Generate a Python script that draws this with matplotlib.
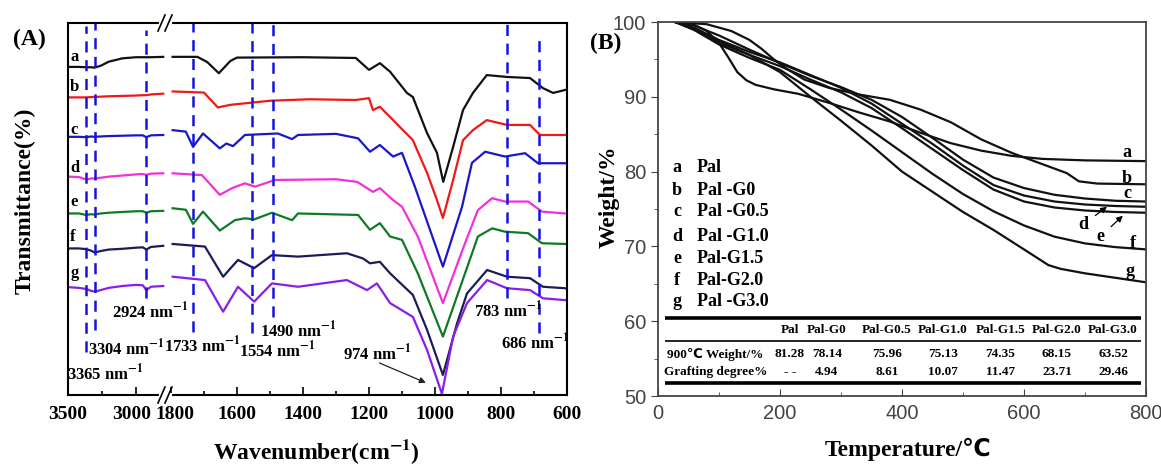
import matplotlib.pyplot as plt
from matplotlib.lines import Line2D
from matplotlib.ticker import MultipleLocator
from matplotlib.transforms import offset_copy

plt.rcParams['font.family'] = ['Liberation Serif', 'DejaVu Sans']
plt.rcParams['font.weight'] = 'bold'
plt.rcParams['mathtext.fontset'] = 'stix'
plt.rcParams['mathtext.default'] = 'bf'
plt.rcParams['lines.scale_dashes'] = False

# ---------------- (A) FTIR data (transmittance offset, a.u.) ----------------
left_wn = [3500, 3420, 3365, 3330, 3304, 3260, 3200, 3100, 3000, 2950, 2924, 2890, 2800]
a_left = [88.2, 88.2, 88.1, 88.1, 88.0, 88.5, 89.6, 90.5, 90.8, 90.8, 90.8, 90.8, 90.9]
b_left = [80.0, 80.0, 80.0, 80.1, 80.1, 80.2, 80.3, 80.4, 80.5, 80.6, 80.6, 80.8, 81.0]
c_left = [69.4, 69.4, 69.3, 69.5, 69.4, 69.5, 69.6, 69.7, 69.8, 69.8, 69.3, 69.8, 69.9]
d_left = [58.7, 58.6, 57.9, 58.2, 58.2, 58.4, 58.7, 59.0, 59.3, 59.4, 59.2, 59.5, 59.6]
e_left = [48.8, 48.8, 48.4, 48.6, 48.5, 48.8, 49.0, 49.2, 49.4, 49.4, 49.0, 49.4, 49.5]
f_left = [39.4, 39.4, 39.2, 38.8, 38.3, 38.7, 39.1, 39.3, 39.6, 39.7, 39.1, 39.8, 40.1]
g_left = [29.0, 28.8, 28.5, 28.0, 27.8, 28.2, 28.8, 29.3, 29.6, 29.5, 28.2, 29.1, 29.3]

a_wn = [1795, 1720, 1690, 1655, 1620, 1600, 1400, 1240, 1200, 1167, 1136, 1085, 1067, 1024, 994, 975,
        945, 915, 885, 843, 782, 712, 673, 642, 606]
a_t = [90.9, 90.9, 89.5, 86.5, 89.8, 90.7, 90.8, 90.6, 87.4, 89.2, 86.9, 81.2, 80.1, 70.4, 65.1, 57.3,
       66.7, 76.6, 81.2, 86.0, 85.5, 85.2, 82.5, 81.2, 82.0]
b_wn = [1795, 1700, 1658, 1620, 1500, 1380, 1240, 1200, 1188, 1167, 1136, 1067, 1024, 994, 976, 945,
        915, 885, 843, 782, 712, 682, 606]
b_t = [81.6, 81.3, 77.3, 78.0, 79.1, 79.5, 79.3, 79.8, 76.6, 77.5, 74.7, 68.5, 59.7, 52.4, 47.6, 57.8,
       68.5, 71.2, 73.9, 72.6, 72.6, 69.9, 69.9]
c_wn = [1795, 1755, 1733, 1703, 1652, 1632, 1612, 1576, 1476, 1433, 1415, 1300, 1233, 1197, 1167, 1127,
        1100, 1061, 976, 918, 888, 848, 788, 727, 688, 606]
c_t = [71.2, 70.8, 66.7, 70.3, 66.3, 67.6, 66.9, 69.9, 70.3, 68.8, 69.9, 70.2, 69.0, 65.4, 67.2, 64.1,
       65.1, 56.0, 34.5, 50.6, 62.4, 65.4, 64.1, 65.0, 62.3, 62.3]
d_wn = [1795, 1706, 1652, 1615, 1576, 1545, 1485, 1300, 1236, 1188, 1167, 1127, 1100, 1052, 976, 909,
        870, 827, 788, 718, 676, 606]
d_t = [59.6, 59.1, 53.8, 55.6, 56.9, 56.0, 57.8, 58.0, 57.3, 54.6, 55.6, 52.4, 50.6, 42.6, 24.7, 40.8,
       49.7, 52.9, 52.0, 52.0, 49.3, 48.8]
e_wn = [1795, 1755, 1733, 1703, 1652, 1606, 1576, 1548, 1494, 1433, 1415, 1233, 1197, 1167, 1136, 1100,
        1052, 976, 909, 870, 827, 788, 718, 676, 606]
e_t = [50.2, 49.8, 46.0, 49.3, 44.2, 47.0, 47.5, 47.2, 49.0, 47.0, 48.8, 48.4, 44.4, 46.2, 42.6, 41.7,
       32.7, 15.7, 32.7, 42.6, 44.8, 43.9, 43.5, 40.8, 40.6]
f_wn = [1795, 1697, 1642, 1597, 1548, 1494, 1415, 1267, 1218, 1197, 1167, 1136, 1067, 1024, 976, 933,
        903, 842, 782, 712, 673, 606]
f_t = [40.6, 39.9, 31.8, 36.3, 34.1, 37.6, 37.2, 38.1, 36.7, 35.4, 35.8, 32.7, 26.9, 17.5, 5.4, 19.3,
       27.3, 33.6, 31.8, 31.4, 29.1, 28.7]
g_wn = [1795, 1697, 1642, 1597, 1548, 1494, 1415, 1267, 1206, 1176, 1136, 1067, 1024, 979, 945, 903,
        842, 782, 712, 673, 606]
g_t = [31.8, 30.9, 22.4, 29.1, 25.1, 30.0, 29.1, 30.9, 28.2, 30.0, 24.7, 21.0, 12.1, 0.3, 15.7, 24.7,
       30.9, 28.7, 28.2, 26.0, 25.5]

ir_names = ['a', 'b', 'c', 'd', 'e', 'f', 'g']
ir_colors = ['#111111', '#f01818', '#1818c8', '#f030d8', '#0f7a25', '#1c1c58', '#8a1ee8']
ir_label_t = [90.9, 82.8, 71.2, 61.0, 51.9, 42.5, 32.7]

# marked bands
band_wn = [3365, 3304, 2924, 1733, 1554, 1490, 783, 686]
band_top = [99.2, 100, 98.1, 100, 100, 100, 100, 96.8]
band_bottom = [11.6, 17.5, 26.1, 16.9, 16.7, 21.0, 26.1, 16.7]
band_lab_x = [3228, 3073, 2897, 1706, 1479, 1415, 779, 697]
band_lab_y = [5.9, 12.6, 22.6, 13.4, 12.1, 17.5, 22.8, 14.2]

# ---------------- (B) TGA data ----------------
tga_a_x = [28, 60, 80, 100, 115, 130, 145, 160, 190, 230, 280, 330, 380, 430, 480, 530, 580, 630, 700, 800]
tga_a_y = [100, 99.6, 98.8, 97.2, 95.3, 93.3, 92.2, 91.6, 91.0, 90.4, 89.2, 87.9, 86.7, 85.2, 83.8,
           82.8, 82.1, 81.7, 81.5, 81.4]
tga_b_x = [28, 80, 120, 150, 170, 190, 210, 240, 280, 330, 380, 430, 480, 530, 580, 630, 670, 690, 720, 800]
tga_b_y = [100, 99.7, 98.8, 97.6, 96.4, 95.0, 93.8, 92.3, 91.2, 90.3, 89.6, 88.3, 86.6, 84.3, 82.5,
           81.0, 79.8, 78.7, 78.4, 78.3]
tga_x = [28, 60, 100, 150, 200, 250, 300, 350, 400, 450, 500, 550, 600, 650, 700, 750, 800]
tga_c_y = [100, 99.5, 98.2, 96.3, 94.5, 92.8, 91.3, 89.6, 87.3, 84.5, 81.6, 79.2, 77.8, 76.9, 76.4, 76.1, 76.0]
tga_d_y = [100, 99.2, 97.6, 96.0, 94.6, 92.9, 91.2, 89.1, 86.4, 83.7, 80.8, 78.2, 76.8, 76.0, 75.6, 75.4, 75.3]
tga_e_y = [100, 99.0, 97.2, 95.6, 94.1, 92.3, 90.6, 88.5, 85.8, 83.0, 80.2, 77.6, 76.0, 75.2, 74.8, 74.6, 74.5]
tga_f_y = [100, 98.9, 97.0, 95.2, 93.6, 91.0, 88.3, 85.5, 82.6, 79.7, 77.0, 74.7, 72.8, 71.3, 70.4, 69.9, 69.6]
tga_g_x = [28, 60, 100, 150, 200, 250, 300, 350, 400, 450, 500, 550, 600, 640, 660, 700, 750, 800]
tga_g_y = [100, 99.1, 97.5, 95.6, 93.3, 90.0, 86.8, 83.5, 80.0, 77.3, 74.6, 72.2, 69.6, 67.5, 67.0,
           66.4, 65.8, 65.2]

samples = ['Pal', 'Pal -G0', 'Pal -G0.5', 'Pal -G1.0', 'Pal-G1.5', 'Pal-G2.0', 'Pal -G3.0']
table_cols = ['Pal', 'Pal-G0', 'Pal-G0.5', 'Pal-G1.0', 'Pal-G1.5', 'Pal-G2.0', 'Pal-G3.0']
weight_900 = ['81.28', '78.14', '75.96', '75.13', '74.35', '68.15', '63.52']
grafting = ['- -', '4.94', '8.61', '10.07', '11.47', '23.71', '29.46']

W, H = 1161, 469
fig = plt.figure(figsize=(W / 100, H / 100), dpi=100)


def box(l, t, r, b):
    return [l / W, 1 - b / H, (r - l) / W, (b - t) / H]


# ---------------- panel A ----------------
ax1 = fig.add_axes(box(68, 23, 167, 395))
ax2 = fig.add_axes(box(167, 23, 567, 395))
ax1.set_xlim(3500, 2772)
ax2.set_xlim(1812, 600)
for ax in (ax1, ax2):
    ax.set_ylim(0, 100)
    ax.set_yticks([])
    ax.patch.set_visible(False)
    for s in ax.spines.values():
        s.set_linewidth(1.5)
    ax.tick_params(axis='x', which='both', direction='in', labelsize=14, width=1.2, pad=8)
    ax.tick_params(axis='x', which='major', length=6)
    ax.tick_params(axis='x', which='minor', length=3)
ax1.spines['right'].set_visible(False)
ax2.spines['left'].set_visible(False)
ax1.set_xticks([3500, 3000], ['3500', ''])
ax1.xaxis.set_minor_locator(MultipleLocator(250))
ax2.set_xticks([1800, 1600, 1400, 1200, 1000, 800, 600],
               ['', '1600', '1400', '1200', '1000', '800', '600'])
ax2.xaxis.set_minor_locator(MultipleLocator(100))
# the two labels either side of the break, nudged apart
ax1.text(3000, 0, '3000', fontsize=14, ha='center', va='top',
         transform=offset_copy(ax1.get_xaxis_transform(), fig, x=-4, y=-11, units='dots'))
ax2.text(1800, 0, '1800', fontsize=14, ha='center', va='top',
         transform=offset_copy(ax2.get_xaxis_transform(), fig, x=4, y=-11, units='dots'))

lefts = [a_left, b_left, c_left, d_left, e_left, f_left, g_left]
rights = [(a_wn, a_t), (b_wn, b_t), (c_wn, c_t), (d_wn, d_t), (e_wn, e_t), (f_wn, f_t), (g_wn, g_t)]
for i in range(7):
    ax1.plot(left_wn, lefts[i], color=ir_colors[i], lw=1.6)
    ax2.plot(rights[i][0], rights[i][1], color=ir_colors[i], lw=1.6)
    ax1.text(3484, ir_label_t[i], ir_names[i], fontsize=12, ha='left', va='center')

for i, wn in enumerate(band_wn):
    ax = ax1 if wn > 2000 else ax2
    ax.plot([wn, wn], [band_bottom[i], band_top[i]], color='#1414e0', lw=1.8,
            ls='--', dashes=(8, 5.5), clip_on=False)
    ax.text(band_lab_x[i], band_lab_y[i], f'{wn} nm$^{{-1}}$', fontsize=12,
            ha='center', va='center')

ax2.text(1176, 11.3, '974 nm$^{-1}$', fontsize=12, ha='center', va='center')
ax2.annotate('', xy=(1020, 3.0), xytext=(1176, 8.9),
             arrowprops=dict(arrowstyle='-|>', color='#222222', lw=0.9, mutation_scale=9))

# axis break marks
for yb in (23, 395):
    fig.add_artist(Line2D([161 / W, 170 / W], [1 - yb / H, 1 - yb / H], color='white', lw=3))
    for dx in (0, 7):
        x0 = 158 + dx
        fig.add_artist(Line2D([x0 / W, (x0 + 7) / W], [1 - (yb + 8) / H, 1 - (yb - 8) / H],
                              color='black', lw=1.2))

fig.text(29 / W, 1 - 39 / H, '(A)', fontsize=17, ha='center', va='center')
fig.text(316 / W, 1 - 452 / H, 'Wavenumber(cm$^{-1}$)', fontsize=17, ha='center', va='center')
fig.text(25 / W, 1 - 201 / H, 'Transmittance(%)', fontsize=17, rotation=90, ha='center', va='center')

# ---------------- panel B ----------------
axB = fig.add_axes(box(658, 22, 1146, 396))
axB.set_xlim(0, 800)
axB.set_ylim(50, 100)
axB.xaxis.set_major_locator(MultipleLocator(200))
axB.xaxis.set_minor_locator(MultipleLocator(100))
axB.yaxis.set_major_locator(MultipleLocator(10))
axB.yaxis.set_minor_locator(MultipleLocator(5))
axB.tick_params(axis='x', which='both', direction='in', colors='#444444', labelsize=14.5, pad=6)
axB.tick_params(axis='y', which='both', direction='out', colors='#444444', labelsize=14.5)
axB.tick_params(which='major', length=5)
axB.tick_params(which='minor', length=3)
for lab in axB.get_xticklabels() + axB.get_yticklabels():
    lab.set_family('Liberation Sans')
    lab.set_weight('normal')
for s in axB.spines.values():
    s.set_color('#444444')
    s.set_linewidth(1.3)

tga = [(tga_a_x, tga_a_y), (tga_b_x, tga_b_y), (tga_x, tga_c_y), (tga_x, tga_d_y),
       (tga_x, tga_e_y), (tga_x, tga_f_y), (tga_g_x, tga_g_y)]
for xs, ys in tga:
    axB.plot(xs, ys, color='#111111', lw=1.6)

# legend text
leg_y = [80.5, 77.5, 74.6, 71.3, 68.4, 65.5, 62.6]
for i in range(7):
    axB.text(31, leg_y[i], ir_names[i], fontsize=13, ha='center', va='center')
    axB.text(64, leg_y[i], samples[i], fontsize=13, ha='left', va='center')

# curve labels at right
end_lab_x = [769, 769, 769, 779, 774]
end_lab_y = [82.5, 79.1, 77.1, 70.4, 66.6]
for n, x, y in zip(['a', 'b', 'c', 'f', 'g'], end_lab_x, end_lab_y):
    axB.text(x, y, n, fontsize=13, ha='center', va='center')
axB.annotate('d', xy=(736, 75.3), xytext=(697, 72.9), fontsize=13, ha='center', va='center',
             arrowprops=dict(arrowstyle='-|>', color='k', lw=0.9, mutation_scale=9, shrinkA=4, shrinkB=0))
axB.annotate('e', xy=(762, 74.1), xytext=(725, 71.3), fontsize=13, ha='center', va='center',
             arrowprops=dict(arrowstyle='-|>', color='k', lw=0.9, mutation_scale=9, shrinkA=4, shrinkB=0))

# table
col_x = [216, 277, 375, 467, 561, 654, 746]
axB.hlines([60.4, 51.7], 11.5, 792, color='k', lw=2.6)
axB.hlines(57.4, 11.5, 792, color='k', lw=1.2)
for i in range(7):
    axB.text(col_x[i], 58.8, table_cols[i], fontsize=9.5, ha='center', va='center')
    axB.text(col_x[i], 55.6, weight_900[i], fontsize=9.5, ha='center', va='center')
    axB.text(col_x[i], 53.2, grafting[i], fontsize=9.5, ha='center', va='center')
axB.text(93, 55.6, '900\u2103 Weight/%', fontsize=9.5, ha='center', va='center')
axB.text(95, 53.2, 'Grafting degree%', fontsize=9.5, ha='center', va='center')

fig.text(606 / W, 1 - 43 / H, '(B)', fontsize=17, ha='center', va='center')
fig.text(908 / W, 1 - 449 / H, 'Temperature/\u2103', fontsize=17, ha='center', va='center')
fig.text(609 / W, 1 - 197 / H, 'Weight/%', fontsize=17, rotation=90, ha='center', va='center')

fig.savefig('out.png', dpi=100)
